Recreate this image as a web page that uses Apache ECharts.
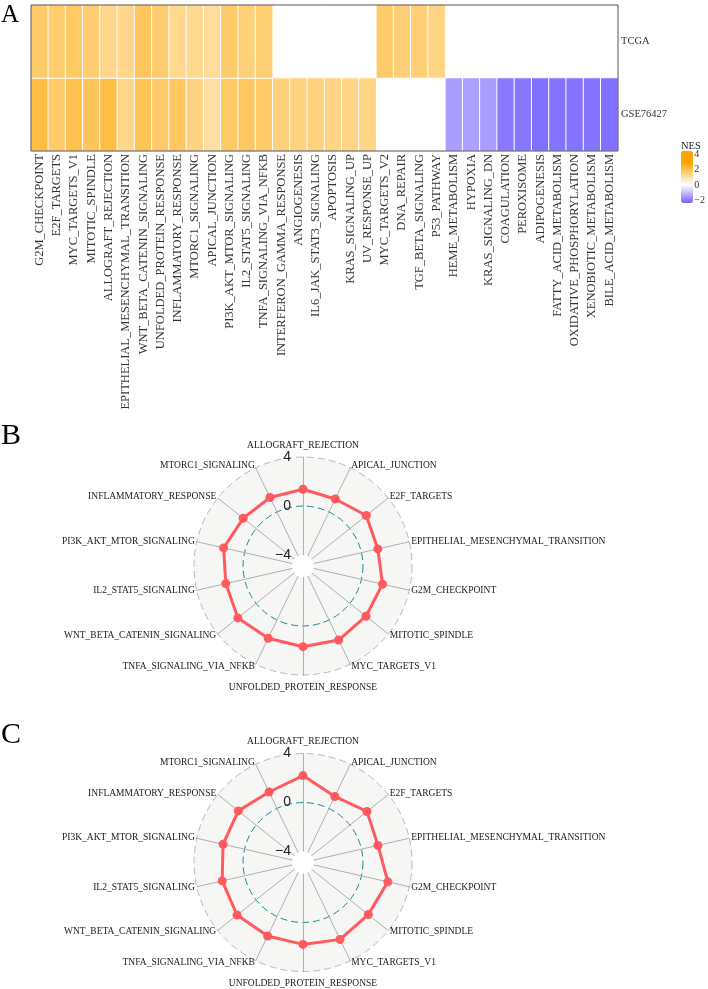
<!DOCTYPE html>
<html><head><meta charset="utf-8">
<script src="https://cdn.jsdelivr.net/npm/echarts@6/dist/echarts.min.js"></script>
<style>html,body{margin:0;padding:0;background:#fff}#c{width:708px;height:989px}</style>
</head><body><div id="c"></div>
<script>
// ---------- data ----------
const hallmarks = ['G2M_CHECKPOINT','E2F_TARGETS','MYC_TARGETS_V1','MITOTIC_SPINDLE','ALLOGRAFT_REJECTION',
  'EPITHELIAL_MESENCHYMAL_TRANSITION','WNT_BETA_CATENIN_SIGNALING','UNFOLDED_PROTEIN_RESPONSE','INFLAMMATORY_RESPONSE',
  'MTORC1_SIGNALING','APICAL_JUNCTION','PI3K_AKT_MTOR_SIGNALING','IL2_STAT5_SIGNALING','TNFA_SIGNALING_VIA_NFKB',
  'INTERFERON_GAMMA_RESPONSE','ANGIOGENESIS','IL6_JAK_STAT3_SIGNALING','APOPTOSIS','KRAS_SIGNALING_UP','UV_RESPONSE_UP',
  'MYC_TARGETS_V2','DNA_REPAIR','TGF_BETA_SIGNALING','P53_PATHWAY','HEME_METABOLISM','HYPOXIA','KRAS_SIGNALING_DN',
  'COAGULATION','PEROXISOME','ADIPOGENESIS','FATTY_ACID_METABOLISM','OXIDATIVE_PHOSPHORYLATION','XENOBIOTIC_METABOLISM',
  'BILE_ACID_METABOLISM'];
const datasets = ['GSE76427','TCGA'];
const nesTCGA = [1.76,1.71,1.81,1.68,1.37,1.37,1.90,1.69,1.35,1.31,1.18,1.75,1.57,1.65,
  null,null,null,null,null,null, 1.75,1.60,1.60,1.45,
  null,null,null,null,null,null,null,null,null,null];
const nesGSE = [2.21,1.78,2.07,1.92,2.20,1.38,1.99,1.79,1.86,1.49,1.09,1.80,1.87,1.76,
  1.55,1.50,1.50,1.45,1.40,1.40, null,null,null,null,
  -1.50,-1.45,-1.50,-2.05,-2.10,-2.20,-2.15,-2.15,-2.15,-2.20];
const legendTicks = [-2,0,2,4];

const radarAxes = ['ALLOGRAFT_REJECTION','APICAL_JUNCTION','E2F_TARGETS','EPITHELIAL_MESENCHYMAL_TRANSITION',
  'G2M_CHECKPOINT','MITOTIC_SPINDLE','MYC_TARGETS_V1','UNFOLDED_PROTEIN_RESPONSE','TNFA_SIGNALING_VIA_NFKB',
  'WNT_BETA_CATENIN_SIGNALING','IL2_STAT5_SIGNALING','PI3K_AKT_MTOR_SIGNALING','INFLAMMATORY_RESPONSE','MTORC1_SIGNALING'];
const radarB = [1.37,1.18,1.71,1.37,1.76,1.68,1.81,1.69,1.65,1.90,1.57,1.75,1.35,1.31];
const radarC = [2.20,1.09,1.78,1.38,2.21,1.92,2.07,1.79,1.76,1.99,1.87,1.80,1.86,1.49];
const radarGrid = [-4,0,4];

// ---------- build ----------
const SERIF = 'Liberation Serif';
const heatData = [];
nesGSE.forEach((v,i)=>{ if(v!==null) heatData.push([i,0,v]); });
nesTCGA.forEach((v,i)=>{ if(v!==null) heatData.push([i,1,v]); });

// colour scale: blue - white - orange
const vmMin = -2.4, vmMax = 4.5, vmStep = 0.3;
const lowC = [118,98,255], midC = [255,255,255], highC = [255,165,0];
function mix(a,b,t){ return 'rgb(' + a.map((x,k)=>Math.round(x+(b[k]-x)*t)).join(',') + ')'; }
const stops = [];
for (let k = 0; k <= Math.round((vmMax-vmMin)/vmStep); k++) {
  const v = vmMin + k*vmStep;
  if (v < 0) stops.push(mix(midC, lowC, Math.min(1, v/vmMin)));
  else stops.push(mix(midC, highC, Math.min(1, v/3.0)));
}

const gMin = radarGrid[0] - (radarGrid[2]-radarGrid[0])/9;   // centre offset like ggradar
const gMax = radarGrid[2];
const order = [0]; for (let i = radarAxes.length-1; i >= 1; i--) order.push(i); // clockwise
const nSplit = 20;
const lineColors = []; for (let i = 0; i <= nSplit; i++) lineColors.push('rgba(0,0,0,0)');
lineColors[11] = '#1a8a96'; lineColors[20] = '#b9b9b9';
const areaColors = []; for (let i = 0; i < nSplit; i++) areaColors.push(i < 2 ? '#ffffff' : '#f6f6f4');

function fmtGrid(v){
  const r = Math.round(v);
  if (Math.abs(v-r) < 1e-3 && radarGrid.indexOf(r) >= 0) return r < 0 ? '\u2212' + (-r) : String(r);
  return '';
}
function makeRadar(cy){
  const indicator = order.map((i,k)=>{
    const o = {name: radarAxes[i], min: gMin, max: gMax};
    if (k === 0) o.axisLabel = {show: true, formatter: fmtGrid, fontFamily: 'Liberation Sans', fontSize: 14, color: '#222', margin: 12, showMinLabel: true, showMaxLabel: true};
    return o;
  });
  return [{
    center: [303, cy], radius: 109, startAngle: 90, shape: 'circle', splitNumber: nSplit, z: 0,
    indicator,
    axisName: {color: '#1a1a1a', fontFamily: SERIF, fontSize: 9.5,
      formatter: function(name){
        if (name === 'ALLOGRAFT_REJECTION') return '{t|' + name + '}';
        if (name === 'UNFOLDED_PROTEIN_RESPONSE') return '{b|' + name + '}';
        return name;
      },
      rich: {t: {padding: [0,0,5,0], fontFamily: SERIF, fontSize: 9.5, color: '#1a1a1a'},
             b: {padding: [5,0,0,0], fontFamily: SERIF, fontSize: 9.5, color: '#1a1a1a'}}},
    nameGap: 2,
    axisLine: {show: true, lineStyle: {color: '#b0b0b0', width: 1}},
    axisTick: {show: false},
    axisLabel: {show: false},
    splitLine: {show: true, lineStyle: {color: lineColors, width: 1, type: [7,4]}},
    splitArea: {show: true, areaStyle: {color: areaColors}}
  }, {
    center: [303, cy], radius: 10.9, startAngle: 90, shape: 'circle', splitNumber: 1, z: 1,
    indicator: order.map(i=>({name: radarAxes[i], min: 0, max: 1})),
    axisName: {show: false}, axisLine: {show: false}, axisTick: {show: false}, axisLabel: {show: false},
    splitLine: {show: false}, splitArea: {show: true, areaStyle: {color: ['#ffffff']}}, silent: true
  }];
}

const chart = echarts.init(document.getElementById('c'), null, {renderer: 'canvas'});
const option = {
  animation: false,
  backgroundColor: '#ffffff',
  textStyle: {fontFamily: SERIF},
  title: [
    {text: 'A', left: 1, top: 3, padding: 0, textStyle: {fontFamily: SERIF, fontSize: 25, fontWeight: 'normal', color: '#000'}},
    {text: 'B', left: 1, top: 421, padding: 0, textStyle: {fontFamily: SERIF, fontSize: 30, fontWeight: 'normal', color: '#000'}},
    {text: 'C', left: 1, top: 720, padding: 0, textStyle: {fontFamily: SERIF, fontSize: 30, fontWeight: 'normal', color: '#000'}},
    {text: 'NES', left: 681, top: 141, padding: 0, textStyle: {fontFamily: SERIF, fontSize: 10.5, fontWeight: 'normal', color: '#222'}}
  ],
  grid: [
    {left: 31, top: 5, width: 587, height: 146, show: true, borderColor: '#555', borderWidth: 1, backgroundColor: 'rgba(0,0,0,0)', z: 3},
    {left: 681, top: 151, width: 12, height: 52, show: false}
  ],
  xAxis: [
    {type: 'category', gridIndex: 0, data: hallmarks, axisLine: {show: false}, axisTick: {show: false},
     axisLabel: {rotate: 90, interval: 0, fontFamily: SERIF, fontSize: 12.5, color: '#333', margin: 3}, splitLine: {show: false}},
    {type: 'value', gridIndex: 1, show: false, min: 0, max: 1}
  ],
  yAxis: [
    {type: 'category', gridIndex: 0, data: datasets, position: 'right', axisLine: {show: false}, axisTick: {show: false},
     axisLabel: {fontFamily: SERIF, fontSize: 10.5, color: '#333', margin: 3}},
    {type: 'value', gridIndex: 1, position: 'right', min: vmMin, max: vmMax,
     axisLine: {show: false}, splitLine: {show: false},
     axisTick: {show: true, inside: true, length: 3, lineStyle: {color: '#fff', width: 1}, customValues: legendTicks},
     axisLabel: {fontFamily: SERIF, fontSize: 10, color: '#333', margin: 5, customValues: legendTicks,
       formatter: v => (v < 0 ? '\u2212' + (-v) : String(v))}}
  ],
  visualMap: {
    type: 'continuous', seriesIndex: 0, min: vmMin, max: vmMax, orient: 'vertical',
    left: 681, top: 151, itemWidth: 12, itemHeight: 52, padding: 0, calculable: false, hoverLink: false,
    text: null, showLabel: false, inRange: {color: stops}
  },
  radar: makeRadar(566).concat(makeRadar(862.5)),
  series: [
    {type: 'heatmap', xAxisIndex: 0, yAxisIndex: 0, data: heatData, z: 1,
     itemStyle: {borderColor: '#ffffff', borderWidth: 1}},
    {type: 'radar', radarIndex: 0, symbol: 'circle', symbolSize: 9, z: 5,
     lineStyle: {color: '#FF5A5F', width: 3}, itemStyle: {color: '#FF5A5F'},
     data: [{value: order.map(i=>radarB[i]), name: 'TCGA'}]},
    {type: 'radar', radarIndex: 2, symbol: 'circle', symbolSize: 9, z: 5,
     lineStyle: {color: '#FF5A5F', width: 3}, itemStyle: {color: '#FF5A5F'},
     data: [{value: order.map(i=>radarC[i]), name: 'GSE76427'}]}
  ]
};
chart.setOption(option);
</script></body></html>
